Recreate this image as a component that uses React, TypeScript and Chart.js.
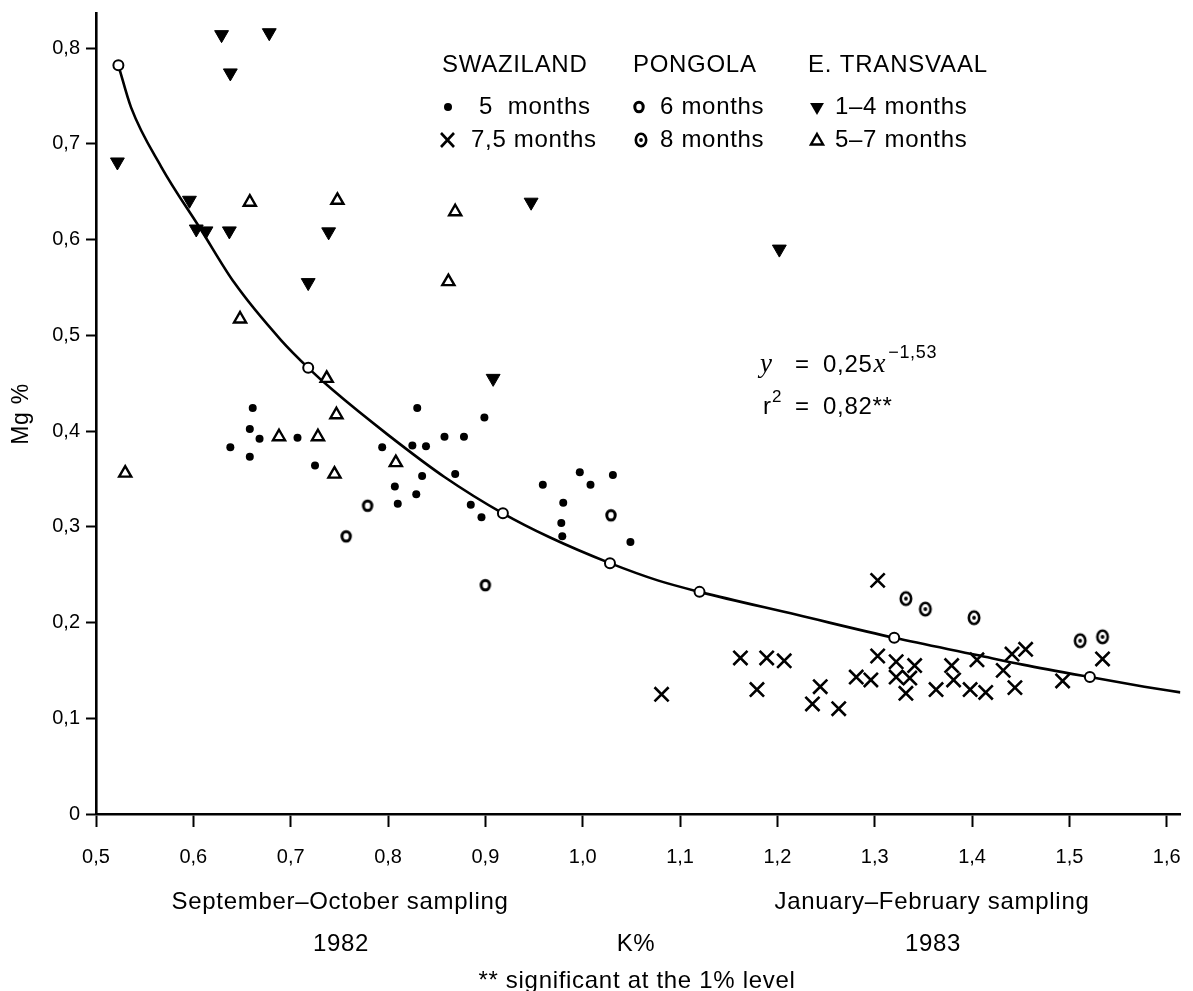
import React, { useEffect, useRef } from 'react';
import { Chart, registerables } from 'chart.js';

Chart.register(...registerables);

// ---------- axis ticks ----------
const xTickValues = [0.5, 0.6, 0.7, 0.8, 0.9, 1.0, 1.1, 1.2, 1.3, 1.4, 1.5, 1.6];
const xTickLabels = ['0,5', '0,6', '0,7', '0,8', '0,9', '1,0', '1,1', '1,2', '1,3', '1,4', '1,5', '1,6'];
const yTickValues = [0, 0.1, 0.2, 0.3, 0.4, 0.5, 0.6, 0.7, 0.8];
const yTickLabels = ['0', '0,1', '0,2', '0,3', '0,4', '0,5', '0,6', '0,7', '0,8'];

// ---------- series ----------
// Swaziland, 5 months (filled dots)
const swazi5K = [0.661, 0.658, 0.638, 0.658, 0.668, 0.707, 0.725, 0.794, 0.807, 0.810, 0.830, 0.825, 0.839, 0.835, 0.829, 0.858, 0.878, 0.869, 0.885, 0.896, 0.899, 0.959, 0.997, 1.008, 1.031, 0.980, 0.978, 0.979, 1.049];
const swazi5Mg = [0.424, 0.402, 0.383, 0.373, 0.392, 0.393, 0.364, 0.383, 0.342, 0.324, 0.424, 0.385, 0.384, 0.353, 0.334, 0.394, 0.394, 0.355, 0.323, 0.310, 0.414, 0.344, 0.357, 0.344, 0.354, 0.325, 0.304, 0.290, 0.284];

// Swaziland, 7,5 months (crosses)
const swazi75K = [1.081, 1.162, 1.189, 1.207, 1.179, 1.236, 1.244, 1.263, 1.281, 1.296, 1.303, 1.303, 1.322, 1.322, 1.341, 1.336, 1.332, 1.379, 1.381, 1.363, 1.398, 1.414, 1.405, 1.441, 1.455, 1.432, 1.444, 1.493, 1.534];
const swazi75Mg = [0.125, 0.163, 0.163, 0.160, 0.130, 0.115, 0.133, 0.110, 0.143, 0.140, 0.244, 0.165, 0.159, 0.143, 0.155, 0.142, 0.126, 0.155, 0.140, 0.130, 0.130, 0.127, 0.161, 0.167, 0.172, 0.150, 0.132, 0.139, 0.162];

// Pongola, 6 months (bold o)
const pongola6K = [0.779, 0.757, 0.900, 1.029];
const pongola6Mg = [0.322, 0.290, 0.239, 0.312];

// Pongola, 8 months (dotted circle)
const pongola8K = [1.332, 1.352, 1.402, 1.511, 1.534];
const pongola8Mg = [0.225, 0.214, 0.205, 0.181, 0.185];

// E. Transvaal, 1-4 months (filled down triangle)
const transvaal14K = [0.629, 0.678, 0.638, 0.522, 0.596, 0.603, 0.613, 0.637, 0.739, 0.718, 0.947, 1.202, 0.908];
const transvaal14Mg = [0.814, 0.816, 0.774, 0.681, 0.641, 0.611, 0.609, 0.609, 0.608, 0.555, 0.639, 0.590, 0.455];

// E. Transvaal, 5-7 months (open up triangle)
const transvaal57K = [0.658, 0.748, 0.869, 0.862, 0.648, 0.737, 0.747, 0.688, 0.728, 0.745, 0.808, 0.530];
const transvaal57Mg = [0.639, 0.641, 0.629, 0.556, 0.517, 0.455, 0.417, 0.394, 0.394, 0.355, 0.367, 0.356];

// fitted curve
const curveK = [0.523, 0.536, 0.567, 0.608, 0.642, 0.690, 0.718, 0.743, 0.800, 0.858, 0.918, 0.966, 1.028, 1.077, 1.120, 1.220, 1.320, 1.405, 1.452, 1.521, 1.577, 1.614];
const curveMg = [0.782, 0.738, 0.676, 0.610, 0.555, 0.495, 0.466, 0.443, 0.396, 0.352, 0.314, 0.289, 0.262, 0.244, 0.232, 0.208, 0.184, 0.166, 0.156, 0.143, 0.133, 0.127];

// open circles lying on the curve
const fitK = [0.523, 0.718, 0.918, 1.028, 1.120, 1.320, 1.521];
const fitMg = [0.782, 0.466, 0.314, 0.262, 0.232, 0.184, 0.143];

// ---------- texts ----------
const groupTitles = ['SWAZILAND', 'PONGOLA', 'E. TRANSVAAL'];
const itemLabels = [
  ['5  months', '7,5 months'],
  ['6 months', '8 months'],
  ['1\u20134 months', '5\u20137 months'],
];
const yTitle = 'Mg %';
const xTitle = 'K%';
const leftPeriod = ['September\u2013October sampling', '1982'];
const rightPeriod = ['January\u2013February sampling', '1983'];
const footnote = '** significant at the 1% level';
const eqCoef = '0,25';
const eqExp = '\u22121,53';
const r2Value = '0,82**';

const SANS = "'Liberation Sans', Arial, Helvetica, sans-serif";
const SERIF = "'Liberation Serif', 'Times New Roman', serif";

const zip = (xs: number[], ys: number[]) => xs.map((x, i) => ({ x, y: ys[i] }));

function makeDotCircle(): HTMLCanvasElement {
  const c = document.createElement('canvas');
  c.width = 20;
  c.height = 20;
  const g = c.getContext('2d')!;
  g.lineWidth = 2.6;
  g.strokeStyle = '#000';
  g.fillStyle = '#fff';
  g.beginPath();
  g.ellipse(10, 10, 5.2, 6.2, 0, 0, Math.PI * 2);
  g.fill();
  g.stroke();
  g.fillStyle = '#000';
  g.beginPath();
  g.arc(10, 10, 1.9, 0, Math.PI * 2);
  g.fill();
  return c;
}

function makeBoldO(): HTMLCanvasElement {
  const c = document.createElement('canvas');
  c.width = 18;
  c.height = 18;
  const g = c.getContext('2d')!;
  g.lineWidth = 3;
  g.strokeStyle = '#000';
  g.fillStyle = '#fff';
  g.beginPath();
  g.ellipse(9, 9, 4.2, 4.8, 0, 0, Math.PI * 2);
  g.fill();
  g.stroke();
  return c;
}

function drawTriangle(ctx: CanvasRenderingContext2D, x: number, y: number, r: number, down: boolean, filled: boolean) {
  const s = down ? -1 : 1;
  ctx.beginPath();
  ctx.moveTo(x, y - s * r);
  ctx.lineTo(x + r * 0.866, y + s * r * 0.5);
  ctx.lineTo(x - r * 0.866, y + s * r * 0.5);
  ctx.closePath();
  if (filled) {
    ctx.fillStyle = '#000';
    ctx.fill();
  } else {
    ctx.fillStyle = '#fff';
    ctx.fill();
    ctx.lineWidth = 2.4;
    ctx.strokeStyle = '#000';
    ctx.stroke();
  }
}

function spacedText(ctx: CanvasRenderingContext2D, text: string, x: number, y: number, spacing: number) {
  const anyCtx = ctx as any;
  const prev = anyCtx.letterSpacing;
  anyCtx.letterSpacing = `${spacing}px`;
  ctx.fillText(text, x, y);
  anyCtx.letterSpacing = prev ?? '0px';
}

const annotationPlugin = {
  id: 'annotationPlugin',
  afterDraw(chart: any) {
    const ctx: CanvasRenderingContext2D = chart.ctx;
    ctx.save();
    ctx.fillStyle = '#000';
    ctx.strokeStyle = '#000';
    ctx.textBaseline = 'middle';
    ctx.textAlign = 'left';

    // ----- legend -----
    const headY = 65;
    const row1 = 107;
    const row2 = 140;
    ctx.font = `24px ${SANS}`;
    spacedText(ctx, groupTitles[0], 442, headY, 0.7);
    ctx.fillText(groupTitles[1], 633, headY);
    spacedText(ctx, groupTitles[2], 808, headY, 0.8);

    // Swaziland markers
    ctx.beginPath();
    ctx.arc(448, row1, 4, 0, Math.PI * 2);
    ctx.fill();
    ctx.lineWidth = 2.6;
    ctx.beginPath();
    ctx.moveTo(441, row2 - 7);
    ctx.lineTo(454, row2 + 7);
    ctx.moveTo(454, row2 - 7);
    ctx.lineTo(441, row2 + 7);
    ctx.stroke();
    ctx.fillStyle = '#000';
    ctx.fillText(itemLabels[0][0], 479, row1);
    ctx.fillText(itemLabels[0][1], 471, row2);

    // Pongola markers
    ctx.drawImage(makeBoldO(), 639 - 9, row1 - 9);
    ctx.drawImage(makeDotCircle(), 641 - 10, row2 - 10);
    ctx.fillStyle = '#000';
    ctx.fillText(itemLabels[1][0], 660, row1);
    ctx.fillText(itemLabels[1][1], 660, row2);

    // Transvaal markers
    drawTriangle(ctx, 817, row1, 8, true, true);
    drawTriangle(ctx, 817, row2 + 1, 7, false, false);
    ctx.fillStyle = '#000';
    ctx.fillText(itemLabels[2][0], 835, row1);
    ctx.fillText(itemLabels[2][1], 835, row2);

    // ----- equation -----
    const eqY = 365;
    const r2Y = 407;
    ctx.font = `italic 27px ${SERIF}`;
    ctx.fillText('y', 760, eqY);
    ctx.font = `24px ${SANS}`;
    ctx.fillText('=', 795, eqY);
    ctx.fillText(eqCoef, 823, eqY);
    let xx = 823 + ctx.measureText(eqCoef).width + 1;
    ctx.font = `italic 27px ${SERIF}`;
    ctx.fillText('x', xx, eqY);
    xx += ctx.measureText('x').width + 2;
    ctx.font = `18px ${SANS}`;
    ctx.fillText(eqExp, xx, eqY - 12);

    ctx.font = `24px ${SANS}`;
    ctx.fillText('r', 763, r2Y);
    ctx.font = `17px ${SANS}`;
    ctx.fillText('2', 772, r2Y - 10);
    ctx.font = `24px ${SANS}`;
    ctx.fillText('=', 795, r2Y);
    ctx.fillText(r2Value, 823, r2Y);

    // ----- y axis title -----
    ctx.save();
    ctx.translate(22, 414);
    ctx.rotate(-Math.PI / 2);
    ctx.textAlign = 'center';
    ctx.font = `23px ${SANS}`;
    ctx.fillText(yTitle, 0, 0);
    ctx.restore();

    // ----- texts below the x axis -----
    ctx.textAlign = 'center';
    ctx.font = `24px ${SANS}`;
    ctx.fillText(leftPeriod[0], 340, 902);
    ctx.fillText(leftPeriod[1], 341, 944);
    ctx.fillText(xTitle, 636, 944);
    ctx.fillText(rightPeriod[0], 932, 902);
    ctx.fillText(rightPeriod[1], 933, 944);
    ctx.fillText(footnote, 637, 981);

    ctx.restore();
  },
};

export default function App() {
  const canvasRef = useRef<HTMLCanvasElement | null>(null);

  useEffect(() => {
    const canvas = canvasRef.current;
    if (!canvas) return;

    const pointBase = { showLine: false, borderColor: '#000' };

    const chart = new Chart(canvas, {
      type: 'scatter',
      data: {
        datasets: [
          {
            label: 'fit markers',
            data: zip(fitK, fitMg),
            ...pointBase,
            pointStyle: 'circle',
            pointRadius: 5,
            pointBorderWidth: 2,
            pointBackgroundColor: '#fff',
            pointBorderColor: '#000',
            order: 0,
          },
          {
            label: 'Swaziland 5 months',
            data: zip(swazi5K, swazi5Mg),
            ...pointBase,
            pointStyle: 'circle',
            pointRadius: 4,
            pointBorderWidth: 0,
            pointBackgroundColor: '#000',
            order: 1,
          },
          {
            label: 'Swaziland 7,5 months',
            data: zip(swazi75K, swazi75Mg),
            ...pointBase,
            pointStyle: 'crossRot',
            pointRadius: 10,
            pointBorderWidth: 2.6,
            pointBorderColor: '#000',
            order: 1,
          },
          {
            label: 'Pongola 6 months',
            data: zip(pongola6K, pongola6Mg),
            ...pointBase,
            pointStyle: makeBoldO(),
            order: 1,
          },
          {
            label: 'Pongola 8 months',
            data: zip(pongola8K, pongola8Mg),
            ...pointBase,
            pointStyle: makeDotCircle(),
            order: 1,
          },
          {
            label: 'E. Transvaal 1-4 months',
            data: zip(transvaal14K, transvaal14Mg),
            ...pointBase,
            pointStyle: 'triangle',
            rotation: 180,
            pointRadius: 8,
            pointBorderWidth: 1,
            pointBackgroundColor: '#000',
            pointBorderColor: '#000',
            order: 1,
          },
          {
            label: 'E. Transvaal 5-7 months',
            data: zip(transvaal57K, transvaal57Mg),
            ...pointBase,
            pointStyle: 'triangle',
            pointRadius: 7,
            pointBorderWidth: 2.4,
            pointBackgroundColor: '#fff',
            pointBorderColor: '#000',
            order: 1,
          },
          {
            label: 'fitted curve',
            data: zip(curveK, curveMg),
            showLine: true,
            borderColor: '#000',
            borderWidth: 2.6,
            pointRadius: 0,
            cubicInterpolationMode: 'monotone',
            fill: false,
            order: 10,
          },
        ],
      },
      options: {
        responsive: false,
        animation: false,
        devicePixelRatio: 1,
        events: [],
        layout: { padding: { left: 0, right: 0, top: 13, bottom: 0 } },
        plugins: {
          legend: { display: false },
          tooltip: { enabled: false },
          title: { display: false },
        },
        scales: {
          x: {
            type: 'linear',
            min: 0.5,
            max: 1.614,
            afterBuildTicks: (s: any) => {
              s.ticks = xTickValues.map((v) => ({ value: v }));
            },
            afterFit: (s: any) => {
              s.height = 177;
              s.paddingLeft = 0;
              s.paddingRight = 0;
            },
            grid: {
              display: true,
              drawOnChartArea: false,
              drawTicks: true,
              tickLength: 13,
              tickWidth: 2,
              tickColor: '#000',
            },
            border: { display: true, color: '#000', width: 2.6 },
            ticks: {
              color: '#000',
              font: { family: SANS, size: 20 },
              padding: 18,
              maxRotation: 0,
              autoSkip: false,
              callback: (_v: any, i: number) => xTickLabels[i],
            },
          },
          y: {
            type: 'linear',
            min: 0,
            max: 0.8366,
            afterBuildTicks: (s: any) => {
              s.ticks = yTickValues.map((v) => ({ value: v }));
            },
            afterFit: (s: any) => {
              s.width = 96;
              s.paddingTop = 0;
              s.paddingBottom = 0;
            },
            grid: {
              display: true,
              drawOnChartArea: false,
              drawTicks: true,
              tickLength: 10,
              tickWidth: 2,
              tickColor: '#000',
            },
            border: { display: true, color: '#000', width: 2.6 },
            ticks: {
              color: '#000',
              font: { family: SANS, size: 20 },
              padding: 6,
              autoSkip: false,
              callback: (_v: any, i: number) => yTickLabels[i],
            },
          },
        },
      } as any,
      plugins: [annotationPlugin],
    });

    return () => {
      chart.destroy();
    };
  }, []);

  return (
    <div style={{ position: 'absolute', left: 0, top: 0, width: 1193, height: 991, background: '#fff' }}>
      <canvas ref={canvasRef} width={1193} height={991} style={{ display: 'block' }} />
    </div>
  );
}
